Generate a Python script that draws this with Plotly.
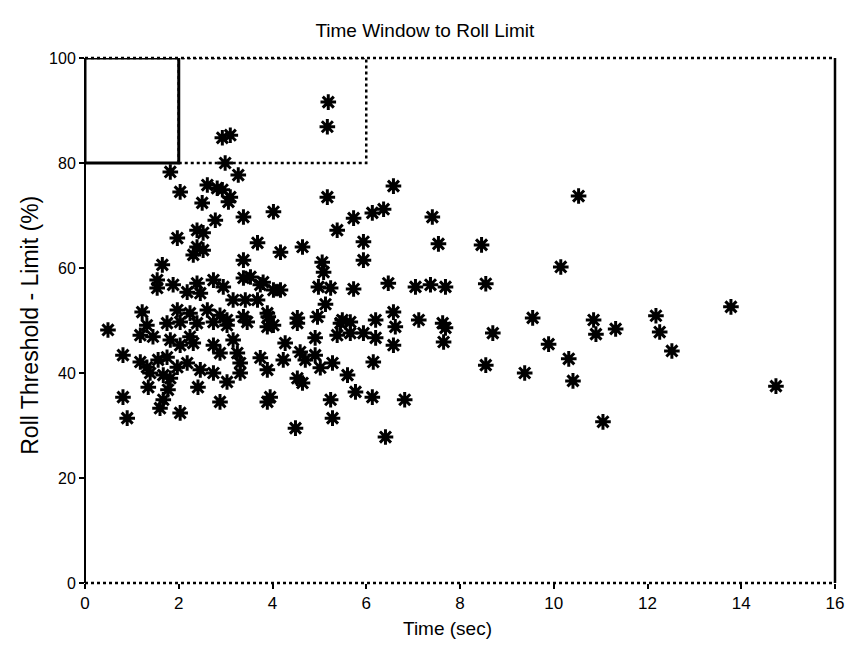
import plotly.graph_objects as go

# Time (sec) values
time_sec = [
    5.19, 5.17, 2.93, 3.10, 2.99, 3.27, 1.82, 2.03, 2.61, 2.82, 2.93, 2.50, 3.06, 3.10,
    4.02, 3.38, 2.78, 5.17, 5.73, 6.13, 6.37, 6.58, 7.41, 5.38, 4.64, 4.17, 5.94, 5.94,
    7.54, 8.46, 5.06, 5.09, 4.98, 5.24, 5.73, 6.47, 7.05, 7.37, 7.69, 8.55, 3.74, 4.17,
    5.13, 3.91, 4.53, 4.96, 5.49, 6.20, 6.58, 7.12, 7.63, 10.53, 10.15, 13.78, 9.55, 10.85,
    12.18, 7.69, 7.65, 8.70, 10.90, 11.32, 12.26, 9.89, 12.52, 10.32, 8.55, 9.38, 10.41, 14.74,
    11.05, 6.82, 4.02, 4.53, 5.45, 5.66, 6.62, 4.91, 5.38, 5.66, 5.94, 6.20, 6.58, 4.27,
    4.59, 3.74, 4.23, 4.70, 4.91, 5.28, 3.89, 5.02, 5.60, 6.15, 4.53, 4.64, 3.89, 3.95,
    5.24, 5.77, 6.13, 5.28, 4.49, 6.41, 0.49, 1.32, 1.75, 2.03, 2.39, 2.74, 3.03, 3.46,
    3.89, 1.18, 1.45, 1.82, 2.03, 2.24, 2.31, 2.74, 2.88, 3.16, 3.25, 3.31, 0.81, 1.18,
    1.32, 1.56, 1.75, 1.97, 2.18, 2.46, 1.39, 1.67, 1.82, 2.74, 3.03, 3.31, 1.35, 1.77,
    2.41, 0.81, 1.67, 1.60, 2.03, 2.88, 0.90, 1.97, 2.39, 2.52, 2.39, 2.52, 2.31, 3.68,
    3.38, 1.65, 1.54, 1.54, 1.88, 2.18, 2.39, 2.46, 2.74, 2.95, 3.38, 3.53, 3.80, 4.02,
    3.16, 3.42, 3.68, 1.22, 1.97, 2.24, 2.61, 2.88, 3.03, 3.38, 3.89,
]

# Roll Threshold - Limit (%) values
roll_pct = [
    91.6, 86.9, 84.8, 85.3, 80.0, 77.7, 78.3, 74.5, 75.8, 75.2, 74.9, 72.4, 72.6, 73.5,
    70.7, 69.7, 69.1, 73.5, 69.5, 70.5, 71.2, 75.6, 69.7, 67.2, 64.0, 63.0, 65.0, 61.5,
    64.6, 64.4, 61.1, 59.2, 56.4, 56.2, 56.0, 57.1, 56.4, 56.8, 56.4, 57.0, 56.8, 55.8,
    53.1, 50.7, 50.5, 50.7, 50.1, 50.1, 51.6, 50.1, 49.5, 73.7, 60.2, 52.6, 50.5, 50.1,
    50.9, 48.6, 45.9, 47.6, 47.4, 48.4, 47.8, 45.5, 44.2, 42.7, 41.5, 40.0, 38.5, 37.5,
    30.7, 34.9, 49.1, 49.5, 49.5, 49.7, 48.8, 46.7, 47.2, 47.6, 47.6, 46.7, 45.3, 45.7,
    44.0, 42.9, 42.5, 42.5, 43.4, 41.9, 40.6, 41.0, 39.6, 42.1, 39.0, 38.1, 34.5, 35.4,
    34.9, 36.4, 35.4, 31.4, 29.5, 27.8, 48.2, 49.1, 49.5, 49.7, 49.5, 49.7, 49.1, 49.7,
    48.8, 47.2, 46.9, 46.3, 45.3, 46.9, 45.7, 45.3, 43.8, 46.3, 43.8, 41.9, 43.4, 42.1,
    41.1, 42.5, 43.0, 41.1, 41.9, 40.6, 40.0, 39.6, 39.0, 40.0, 38.3, 40.0, 37.3, 36.8,
    37.3, 35.4, 34.9, 33.3, 32.4, 34.5, 31.4, 65.7, 67.2, 66.7, 64.0, 63.4, 62.5, 64.8,
    61.5, 60.6, 57.7, 56.2, 56.8, 55.4, 57.1, 55.2, 57.7, 56.4, 58.1, 58.3, 57.3, 55.8,
    53.9, 53.9, 53.9, 51.6, 52.0, 51.4, 52.0, 51.0, 50.1, 50.7, 51.4,
]

x_ticks = [0, 2, 4, 6, 8, 10, 12, 14, 16]
y_ticks = [0, 20, 40, 60, 80, 100]

# Boxes drawn in the upper-left corner (time range, roll range)
solid_box = [0, 2, 80, 100]
dotted_box = [2, 6, 80, 100]

FONT = "Liberation Sans, Arial, Helvetica, sans-serif"

fig = go.Figure()
fig.add_trace(go.Scatter(
    x=time_sec, y=roll_pct, mode="markers",
    marker=dict(symbol="asterisk-open", size=13, color="black",
                line=dict(color="black", width=3)),
    showlegend=False, hoverinfo="x+y", cliponaxis=False,
))

fig.add_shape(type="rect", xref="x", yref="y",
              x0=solid_box[0], x1=solid_box[1], y0=solid_box[2], y1=solid_box[3],
              line=dict(color="black", width=3))
fig.add_shape(type="rect", xref="x", yref="y",
              x0=dotted_box[0], x1=dotted_box[1], y0=dotted_box[2], y1=dotted_box[3],
              line=dict(color="black", width=2.5, dash="dot"))

# frame: dotted top/bottom, solid left/right
fig.add_shape(type="line", xref="paper", yref="paper", x0=0, x1=1, y0=0, y1=0,
              line=dict(color="black", width=2.5, dash="dot"))
fig.add_shape(type="line", xref="paper", yref="paper", x0=0, x1=1, y0=1, y1=1,
              line=dict(color="black", width=2.5, dash="dot"))
fig.add_shape(type="line", xref="paper", yref="paper", x0=0, x1=0, y0=0, y1=1,
              line=dict(color="black", width=2))
fig.add_shape(type="line", xref="paper", yref="paper", x0=1, x1=1, y0=0, y1=1,
              line=dict(color="black", width=2.5))

fig.add_annotation(text="Time (sec)", xref="paper", yref="paper",
                   x=0.483, y=0, yshift=-45, xanchor="center", yanchor="middle",
                   showarrow=False, font=dict(size=19, family=FONT))
fig.add_annotation(text="Roll Threshold - Limit (%)", xref="paper", yref="paper",
                   x=0, xshift=-55, y=0.49, xanchor="center", yanchor="middle",
                   textangle=-90, showarrow=False, font=dict(size=23, family=FONT))

fig.update_layout(
    width=848, height=651,
    margin=dict(l=85, r=13, t=58, b=68, autoexpand=False),
    paper_bgcolor="white", plot_bgcolor="white",
    font=dict(family=FONT, color="black", size=16),
    title=dict(text="Time Window to Roll Limit", x=0.501, xanchor="center",
               y=0.954, yanchor="middle", font=dict(size=19, family=FONT)),
    xaxis=dict(range=[0, 16], tickvals=x_ticks, ticktext=[str(v) for v in x_ticks],
               showgrid=False, zeroline=False, showline=False, automargin=False,
               ticks="outside", ticklen=5, tickwidth=1.5, tickcolor="black",
               ticklabeloverflow="allow", tickfont=dict(size=17)),
    yaxis=dict(range=[0, 100], tickvals=y_ticks, ticktext=[str(v) for v in y_ticks],
               showgrid=False, zeroline=False, showline=False, automargin=False,
               ticks="outside", ticklen=5, tickwidth=1.5, tickcolor="black",
               ticklabeloverflow="allow", tickfont=dict(size=16)),
)

# remove the browser's default 8px body margin so the figure fills the window
fig.write_html("out.html", config={"displayModeBar": False},
               post_script="document.body.style.margin='0';document.body.style.overflow='hidden';")
